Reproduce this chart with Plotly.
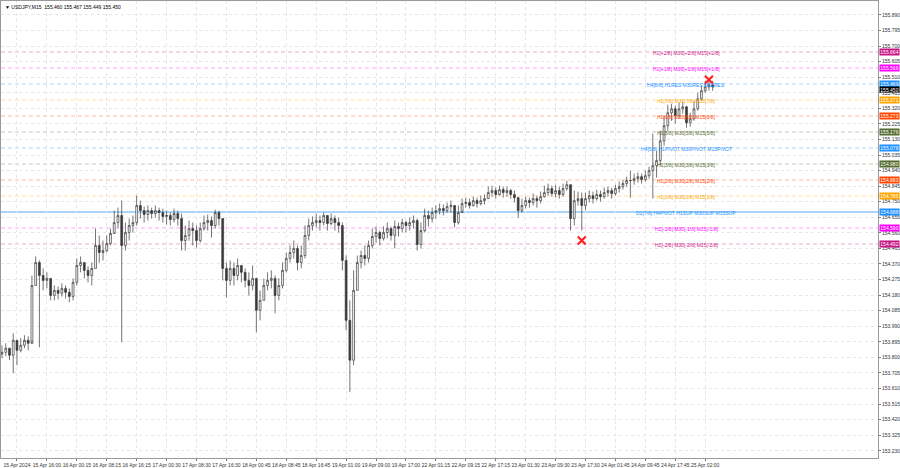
import plotly.graph_objects as go

# ---------------- data (hourly view of USDJPY M15 chart) ----------------
bar_index = list(range(191))
first_open = 153.820
closes = [
    153.831, 153.856, 153.813, 153.904, 153.843, 153.874, 153.904, 153.886, 154.239, 154.379,
    154.300, 154.270, 154.282, 154.178, 154.209, 154.191, 154.221, 154.197, 154.172, 154.258,
    154.361, 154.379, 154.331, 154.300, 154.343, 154.483, 154.440, 154.452, 154.495, 154.556,
    154.623, 154.666, 154.483, 154.562, 154.605, 154.623, 154.727, 154.696, 154.672, 154.696,
    154.678, 154.696, 154.684, 154.660, 154.666, 154.641, 154.678, 154.647, 154.513, 154.544,
    154.586, 154.574, 154.513, 154.586, 154.623, 154.635, 154.605, 154.684, 154.647, 154.343,
    154.270, 154.343, 154.300, 154.361, 154.319, 154.270, 154.239, 154.282, 154.087, 154.148,
    154.239, 154.270, 154.282, 154.178, 154.239, 154.331, 154.404, 154.440, 154.465, 154.379,
    154.422, 154.544, 154.605, 154.623, 154.635, 154.623, 154.666, 154.617, 154.647, 154.623,
    154.605, 154.392, 154.026, 153.783, 154.209, 154.379, 154.422, 154.404, 154.483, 154.538,
    154.562, 154.526, 154.562, 154.586, 154.544, 154.599, 154.586, 154.623, 154.605, 154.623,
    154.635, 154.489, 154.574, 154.666, 154.647, 154.684, 154.696, 154.708, 154.696, 154.720,
    154.727, 154.623, 154.684, 154.739, 154.745, 154.727, 154.757, 154.739, 154.757, 154.769,
    154.806, 154.818, 154.794, 154.824, 154.806, 154.818, 154.794, 154.775, 154.696, 154.727,
    154.757, 154.745, 154.769, 154.757, 154.781, 154.806, 154.830, 154.800, 154.818, 154.794,
    154.830, 154.854, 154.647, 154.757, 154.769, 154.727, 154.769, 154.787, 154.769, 154.794,
    154.781, 154.806, 154.818, 154.800, 154.830, 154.842, 154.861, 154.879, 154.879, 154.891,
    154.903, 154.885, 154.909, 154.940, 154.970, 155.001, 155.122, 155.214, 155.293, 155.317,
    155.275, 155.317, 155.329, 155.232, 155.256, 155.317, 155.378, 155.427, 155.451, 155.463,
    155.450,
]
highs = [
    153.874, 153.886, 153.856, 153.947, 153.892, 153.917, 153.935, 153.929, 154.300, 154.416,
    154.392, 154.343, 154.319, 154.258, 154.239, 154.233, 154.252, 154.239, 154.221, 154.282,
    154.404, 154.416, 154.379, 154.355, 154.379, 154.586, 154.544, 154.513, 154.544, 154.586,
    154.696, 154.714, 154.757, 154.623, 154.647, 154.666, 154.787, 154.757, 154.720, 154.727,
    154.714, 154.727, 154.714, 154.708, 154.696, 154.684, 154.708, 154.696, 154.678, 154.605,
    154.635, 154.623, 154.605, 154.623, 154.666, 154.672, 154.660, 154.702, 154.696, 154.635,
    154.379, 154.392, 154.379, 154.404, 154.361, 154.343, 154.319, 154.361, 154.270, 154.209,
    154.282, 154.319, 154.331, 154.300, 154.282, 154.379, 154.440, 154.483, 154.513, 154.483,
    154.483, 154.605, 154.647, 154.660, 154.678, 154.666, 154.684, 154.660, 154.678, 154.666,
    154.653, 154.623, 154.422, 154.148, 154.331, 154.422, 154.452, 154.483, 154.513, 154.586,
    154.599, 154.574, 154.599, 154.623, 154.599, 154.635, 154.623, 154.647, 154.635, 154.653,
    154.666, 154.647, 154.623, 154.708, 154.696, 154.714, 154.727, 154.739, 154.733, 154.745,
    154.757, 154.727, 154.727, 154.769, 154.775, 154.769, 154.781, 154.775, 154.787, 154.794,
    154.842, 154.848, 154.836, 154.848, 154.842, 154.842, 154.830, 154.818, 154.781, 154.769,
    154.781, 154.775, 154.800, 154.787, 154.812, 154.848, 154.861, 154.848, 154.854, 154.842,
    154.861, 154.879, 154.854, 154.818, 154.812, 154.806, 154.806, 154.818, 154.812, 154.824,
    154.818, 154.836, 154.842, 154.836, 154.854, 154.873, 154.885, 154.903, 154.940, 154.921,
    154.928, 154.921, 154.940, 154.964, 155.165, 155.061, 155.183, 155.275, 155.342, 155.348,
    155.336, 155.354, 155.360, 155.336, 155.293, 155.366, 155.415, 155.457, 155.488, 155.494,
    155.488,
]
lows = [
    153.795, 153.807, 153.783, 153.703, 153.752, 153.831, 153.856, 153.843, 153.904, 154.239,
    153.862, 154.209, 154.221, 154.148, 154.148, 154.154, 154.172, 154.160, 154.136, 154.148,
    154.239, 154.319, 154.282, 154.258, 154.239, 154.343, 154.379, 154.392, 154.440, 154.483,
    154.562, 154.586, 153.892, 154.452, 154.513, 154.562, 154.605, 154.647, 154.623, 154.635,
    154.647, 154.653, 154.635, 154.623, 154.611, 154.605, 154.623, 154.605, 154.452, 154.452,
    154.513, 154.483, 154.471, 154.501, 154.574, 154.574, 154.532, 154.586, 154.605, 154.270,
    154.166, 154.239, 154.239, 154.270, 154.258, 154.227, 154.178, 154.209, 153.953, 154.026,
    154.148, 154.209, 154.221, 154.069, 154.148, 154.221, 154.319, 154.379, 154.404, 154.331,
    154.343, 154.404, 154.513, 154.574, 154.593, 154.574, 154.605, 154.574, 154.605, 154.574,
    154.562, 154.331, 153.965, 153.588, 153.752, 154.209, 154.343, 154.361, 154.379, 154.465,
    154.501, 154.483, 154.513, 154.526, 154.513, 154.465, 154.538, 154.562, 154.562, 154.574,
    154.586, 154.452, 154.465, 154.562, 154.599, 154.623, 154.647, 154.672, 154.666, 154.684,
    154.684, 154.593, 154.611, 154.696, 154.714, 154.708, 154.720, 154.714, 154.727, 154.733,
    154.769, 154.781, 154.769, 154.787, 154.775, 154.781, 154.769, 154.745, 154.653, 154.684,
    154.708, 154.714, 154.727, 154.714, 154.739, 154.775, 154.787, 154.781, 154.775, 154.769,
    154.781, 154.818, 154.574, 154.605, 154.727, 154.574, 154.696, 154.745, 154.739, 154.757,
    154.751, 154.769, 154.781, 154.769, 154.787, 154.806, 154.824, 154.842, 154.775, 154.854,
    154.867, 154.861, 154.873, 154.891, 154.769, 154.897, 154.970, 155.092, 155.183, 155.244,
    155.226, 155.256, 155.287, 155.202, 155.208, 155.244, 155.305, 155.366, 155.415, 155.427,
    155.427,
]
opens = [first_open] + closes[:-1]

# Murrey-math style levels (price, left label, colour)
level_prices = [155.664, 155.566, 155.469, 155.371, 155.273, 155.176, 155.078,
                154.980, 154.883, 154.785, 154.688, 154.590, 154.492]
level_texts = ["H1[+2/8] M30[+2/8] M15[+2/8]",
               "H1[+1/8] M30[+1/8] M15[+1/8]",
               "H4[8/8] H1RES M30RES M15RES",
               "H1[7/8] M30[7/8] M15[7/8]",
               "H1[6/8] M30[6/8] M15[6/8]",
               "H1[5/8] M30[5/8] M15[5/8]",
               "H4[5/8] H1PIVOT M30PIVOT M15PIVOT",
               "H1[3/8] M30[3/8] M15[3/8]",
               "H1[2/8] M30[2/8] M15[2/8]",
               "H1[1/8] M30[1/8] M15[1/8]",
               "D1[7/8] H4PIVOT H1SUP M30SUP M15SUP",
               "H1[-1/8] M30[-1/8] M15[-1/8]",
               "H1[-2/8] M30[-2/8] M15[-2/8]"]
level_colors = ["#C71585", "#FF00FF", "#1E90FF", "#FFA500", "#FF4500", "#556B2F", "#1E90FF",
                "#556B2F", "#FF4500", "#FFA500", "#1E90FF", "#FF00FF", "#C71585"]

current_price = 155.450
title_text = "▼ USDJPY,M15  155.460 155.467 155.449 155.450"

signal_bars = [155, 189]
signal_prices = [154.513, 155.494]

price_ticks = [155.890, 155.795, 155.700, 155.605, 155.510, 155.415, 155.320, 155.225,
               155.130, 155.035, 154.940, 154.845, 154.750, 154.655, 154.560, 154.465,
               154.370, 154.275, 154.180, 154.085, 153.990, 153.895, 153.800, 153.705,
               153.610, 153.515, 153.420, 153.325, 153.230]
time_tick_bars = [4, 12, 20, 28, 36, 44, 52, 60, 68, 76, 84, 92, 100, 108, 116, 124,
                  132, 140, 148, 156, 164, 172, 180, 188]
time_tick_labels = ["15 Apr 2024", "15 Apr 16:00", "16 Apr 00:15", "16 Apr 08:15",
                    "16 Apr 16:15", "17 Apr 00:30", "17 Apr 08:30", "17 Apr 16:30",
                    "18 Apr 00:45", "18 Apr 08:45", "18 Apr 16:45", "19 Apr 01:00",
                    "19 Apr 09:00", "19 Apr 17:00", "22 Apr 01:15", "22 Apr 09:15",
                    "22 Apr 17:15", "23 Apr 01:30", "23 Apr 09:30", "23 Apr 17:30",
                    "24 Apr 01:45", "24 Apr 09:45", "24 Apr 17:45", "25 Apr 02:00"]

FONT = "Liberation Sans Narrow, Liberation Sans"
fig = go.Figure()

# level lines
shapes = []
for p, c, t in zip(level_prices, level_colors, level_texts):
    if t.startswith("D1"):
        shapes.append(dict(type="line", xref="paper", x0=0, x1=1, yref="y", y0=p, y1=p,
                           line=dict(color="#A9D3F7", width=2), layer="below"))
    else:
        shapes.append(dict(type="line", xref="paper", x0=0, x1=1, yref="y", y0=p, y1=p,
                           line=dict(color=c, width=1, dash="4px,3px"), opacity=0.35, layer="below"))

fig.add_trace(go.Candlestick(
    x=bar_index, open=opens, high=highs, low=lows, close=closes,
    increasing=dict(line=dict(color="#3a3a3a", width=0.7), fillcolor="#ffffff"),
    decreasing=dict(line=dict(color="#3a3a3a", width=0.7), fillcolor="#3a3a3a"),
    whiskerwidth=0, showlegend=False, hoverinfo="skip"))

fig.add_trace(go.Scatter(
    x=signal_bars, y=signal_prices, mode="markers",
    marker=dict(symbol="x-thin", size=8, line=dict(color="#FF2020", width=2.2)),
    showlegend=False, hoverinfo="skip"))

annotations = []
for p, c, t in zip(level_prices, level_colors, level_texts):
    annotations.append(dict(x=183, y=p, xref="x", yref="y", text=t, showarrow=False,
                            font=dict(family=FONT, size=5, color=c), xanchor="center",
                            yanchor="middle", yshift=-1))
    annotations.append(dict(x=1, y=p, xref="paper", yref="y", text=f"{p:.3f}",
                            showarrow=False, xanchor="left", yanchor="middle", xshift=1,
                            font=dict(family=FONT, size=5, color="white"), bgcolor=c,
                            width=19, height=6, borderpad=0))
annotations.append(dict(x=1, y=current_price, xref="paper", yref="y", text=f"{current_price:.3f}",
                        showarrow=False, xanchor="left", yanchor="middle", xshift=1, yshift=-2,
                        font=dict(family=FONT, size=5, color="white"), bgcolor="#000000",
                        width=19, height=5, borderpad=0))
annotations.append(dict(x=0, y=1, xref="paper", yref="paper", text=title_text, showarrow=False,
                        xanchor="left", yanchor="top", xshift=2, yshift=-1,
                        font=dict(family=FONT, size=5, color="#000000")))

fig.update_layout(
    width=900, height=468,
    margin=dict(l=1, r=22, t=1, b=10, autoexpand=False),
    paper_bgcolor="white", plot_bgcolor="white",
    shapes=shapes, annotations=annotations,
    xaxis=dict(range=[-0.27, 234.2], tickvals=time_tick_bars, ticktext=time_tick_labels,
               tickfont=dict(family=FONT, size=5, color="#333333"), tickangle=0,
               automargin=False,
               showgrid=True, gridcolor="#E6E6E6", griddash="dot", gridwidth=1,
               ticks="outside", ticklen=2, tickcolor="#777777",
               showline=True, linecolor="#9A9A9A", mirror=True, zeroline=False,
               rangeslider=dict(visible=False), fixedrange=True),
    yaxis=dict(range=[153.186, 155.975], side="right", tickvals=price_ticks,
               ticktext=[f"{v:.3f}" for v in price_ticks], automargin=False,
               tickfont=dict(family=FONT, size=5, color="#333333"),
               showgrid=True, gridcolor="#E6E6E6", griddash="dot", gridwidth=1,
               ticks="outside", ticklen=2, tickcolor="#777777",
               showline=True, linecolor="#9A9A9A", mirror=True, zeroline=False,
               fixedrange=True),
)

fig.write_html("out.html", config={"displayModeBar": False},
               post_script="document.body.style.margin='0px';document.body.style.overflow='hidden';")
